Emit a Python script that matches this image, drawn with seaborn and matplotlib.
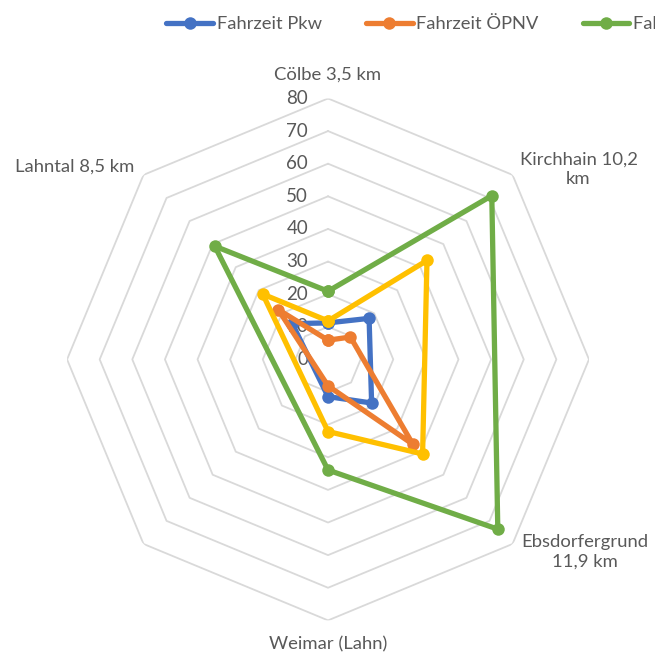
import matplotlib
matplotlib.use("Agg")
import matplotlib.pyplot as plt
import matplotlib.transforms as mtrans
import numpy as np
import seaborn as sns

# Kategorien (8 Achsen, drei ohne Beschriftung/Werte)
orte = ["Cölbe 3,5 km", "Kirchhain 10,2\nkm", "", "Ebsdorfergrund\n11,9 km",
        "Weimar (Lahn)", "", "", "Lahntal 8,5 km"]
nan = np.nan
pkw = [11.2, 17.8, nan, 18.9, 11.4, nan, nan, 15.5]
oepnv = [5.9, 9.7, nan, 36.8, 8.1, nan, nan, 21.6]
fahrrad = [20.9, 71.0, nan, 73.6, 33.9, nan, nan, 49.1]
gelb = [11.8, 42.9, nan, 41.0, 22.1, nan, nan, 28.3]
serien = ["Fahrzeit Pkw", "Fahrzeit ÖPNV", "Fahrzeit Fahrrad", "Fahrzeit Pedelec"]
farben = ["#4472C4", "#ED7D31", "#70AD47", "#FFC000"]
ringe = [10, 20, 30, 40, 50, 60, 70, 80]
tick_werte = [0, 10, 20, 30, 40, 50, 60, 70, 80]

sns.set_style("white")
plt.rcParams["font.family"] = ["Lato", "DejaVu Sans"]

fig = plt.figure(figsize=(6.55, 6.59), dpi=100)
ax = fig.add_axes([0.1023, 0.0586, 0.797, 0.792], projection="polar")
ax.set_theta_offset(np.pi / 2)
ax.set_theta_direction(-1)
ax.set_ylim(0, 80)
ax.grid(False)
ax.set_xticks([])
ax.set_yticks([])
ax.spines["polar"].set_visible(False)

n = len(orte)
winkel = np.linspace(0, 2 * np.pi, n, endpoint=False)

# achteckige Gitterlinien
w_ring = np.append(winkel, 2 * np.pi)
for r in ringe:
    ax.plot(w_ring, [r] * len(w_ring), color="#D9D9D9", lw=1.3, zorder=1)

# Achsenbeschriftung links der oberen Achse
off = mtrans.offset_copy(ax.transData, fig=fig, x=-20, y=0, units="dots")
for t in tick_werte:
    ax.text(0, t, str(t), transform=off, ha="right", va="center",
            fontsize=13.5, color="#595959", zorder=1)

# Kategorienbeschriftung
pos = {0: (0, 87.4), 1: (np.deg2rad(52.8), 96.4), 3: (np.deg2rad(126.9), 98.4),
       4: (np.pi, 87.4), 7: (np.deg2rad(307.2), 97.6)}
for i, (th, rr) in pos.items():
    ax.text(th, rr, orte[i], ha="center", va="center", fontsize=13.3,
            color="#595959", linespacing=1.3)

handles = []
for name, werte, c in zip(serien, [pkw, oepnv, fahrrad, gelb], farben):
    werte = np.array(werte)
    ok = ~np.isnan(werte)
    th = np.append(winkel[ok], 2 * np.pi)
    rv = np.append(werte[ok], werte[ok][0])
    sns.lineplot(x=th, y=rv, ax=ax, sort=False, estimator=None, color=c,
                 lw=3.8, marker="o", markersize=9, markeredgewidth=0, zorder=3)
    line = ax.lines[-1]
    line.set_label(name)
    handles.append(line)

if ax.get_legend() is not None:
    ax.get_legend().remove()

fig.legend(handles=handles, loc="center left", bbox_to_anchor=(0.24, 0.963),
           ncol=4, frameon=False, fontsize=13.2, handlelength=2.55,
           handletextpad=0.2, columnspacing=2.4, borderpad=0,
           labelcolor="#595959")

fig.savefig("out.png", dpi=100)
